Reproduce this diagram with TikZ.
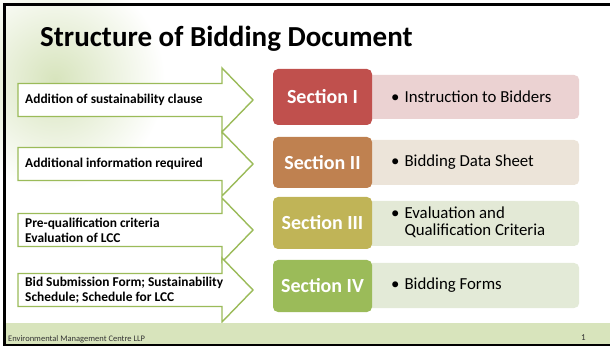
\documentclass[tikz,border=0pt]{standalone}
\usepackage{fontspec}
\setmainfont{Carlito}
\usepackage{xcolor}
\usetikzlibrary{positioning,calc}

\definecolor{leafgreen}{HTML}{9BBB59}
\definecolor{secred}{HTML}{C0504D}
\definecolor{secbrown}{HTML}{BF8150}
\definecolor{secolive}{HTML}{C0B457}
\definecolor{secgreen}{HTML}{9BBB59}
\definecolor{descred}{HTML}{EBD2D2}
\definecolor{descbrown}{HTML}{ECE4D9}
\definecolor{descolive}{HTML}{E3E9D6}
\definecolor{descgreen}{HTML}{E3EAD7}
\definecolor{footband}{HTML}{D8E4BC}

\begin{document}
\begin{tikzpicture}[
  x=1pt, y=-1pt,
  section/.style={
    rounded corners=5pt, minimum width=99pt,
    text=white, font=\fontsize{20}{24}\selectfont\bfseries
  },
  desc/.style={
    rounded corners=5pt, minimum width=213pt, anchor=west,
    inner sep=0pt
  },
  bullettext/.style={anchor=west, inner sep=0pt, font=\fontsize{16.8}{18}\selectfont},
  callout/.style={draw=leafgreen, line width=1.4pt, fill=white, line join=miter},
  callouttext/.style={anchor=west, align=left, inner sep=0pt,
    font=\fontsize{13.4}{15}\selectfont\bfseries}
]
\useasboundingbox (0,0) rectangle (610,347);

% --- faint leaf in the background ---
\shade[inner color=leafgreen!40, outer color=white] (55,80) circle (110);

% --- title ---
\node[anchor=base west, inner sep=0pt, font=\fontsize{29}{32}\selectfont\bfseries]
  (title) at (40,47) {Structure of Bidding Document};

% --- callout arrows ---
\foreach \c/\nm in {100/a1, 164/a2, 230/a3, 290/a4} {
  \draw[callout] (18,\c-16.5) -- (222,\c-16.5) -- (222,\c-32) -- (253,\c)
    -- (222,\c+32) -- (222,\c+16.5) -- (18,\c+16.5) -- cycle;
  \coordinate (\nm) at (25,\c);
}
\node[callouttext] (t1) at (a1) {Addition of sustainability clause};
\node[callouttext] (t2) at (a2) {Additional information required};
\node[callouttext] (t3) at (a3) {Pre-qualification criteria\\Evaluation of LCC};
\node[callouttext] (t4) at (a4) {Bid Submission Form; Sustainability\\Schedule; Schedule for LCC};

% --- description boxes ---
\node[desc, fill=descred, minimum height=44pt] (d1) at (366,97) {};
\node[desc, fill=descbrown, minimum height=45pt] (d2) at (366,162.5) {};
\node[desc, fill=descolive, minimum height=45pt] (d3) at (366,223.5) {};
\node[desc, fill=descgreen, minimum height=45pt] (d4) at (366,285.5) {};

% --- sections ---
\node[section, fill=secred, minimum height=56pt] (s1) at (322.5,97) {Section I};
\node[section, fill=secbrown, minimum height=51pt] (s2) at (322.5,162.5) {Section II};
\node[section, fill=secolive, minimum height=52pt] (s3) at (322.5,223) {Section III};
\node[section, fill=secgreen, minimum height=52pt] (s4) at (322.5,286) {Section IV};

\node[bullettext] (b1) at (391,97) {\textbullet\hspace{5pt}Instruction to Bidders};
\node[bullettext] (b2) at (391,162.5) {\textbullet\hspace{5pt}Bidding Data Sheet};
\node[bullettext] (b3) at (391,223.5) {%
  \begin{tabular}{@{}l@{\hspace{5pt}}l@{}}\textbullet & Evaluation and\\[-1pt]
  & Qualification Criteria\end{tabular}};
\node[bullettext] (b4) at (391,285.5) {\textbullet\hspace{5pt}Bidding Forms};

% --- footer ---
\fill[footband] (5.5,323) rectangle (610,343.5);
\node[anchor=base west, inner sep=0pt, font=\fontsize{8.5}{10}\selectfont, text=black!80]
  (foot) at (8,341) {Environmental Management Centre LLP};
\node[anchor=base west, inner sep=0pt, font=\fontsize{9}{10}\selectfont, text=black!80]
  (page) at (581,340) {1};

% --- slide border ---
\draw[line width=2.5pt] (610,4.5) -- (4.5,4.5) -- (4.5,345.2) -- (610,345.2);
\end{tikzpicture}
\end{document}
